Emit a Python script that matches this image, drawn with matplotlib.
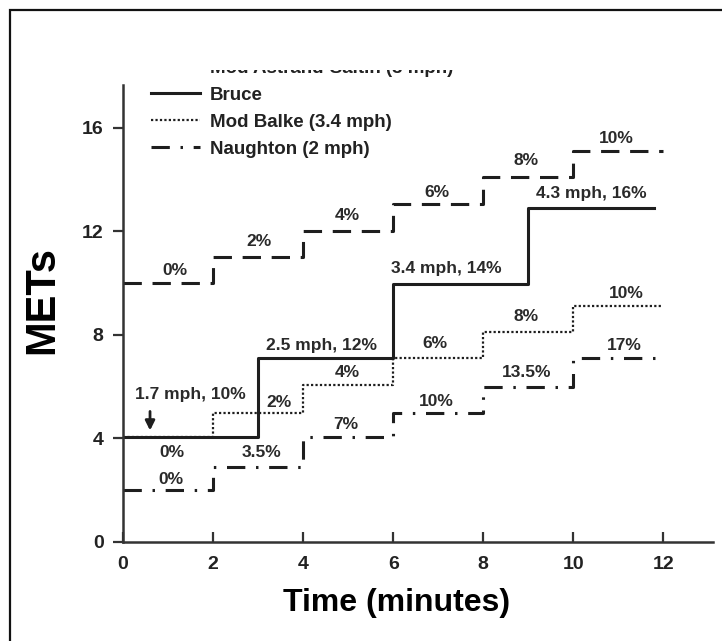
import matplotlib
matplotlib.use('Agg')
import matplotlib.pyplot as plt
from matplotlib.patches import Rectangle

plt.rcParams['font.family'] = ['Liberation Sans', 'DejaVu Sans']
plt.rcParams['font.weight'] = 'bold'

# step data (time in minutes, METs), drawn as steps-post
astrand_t = [0, 2, 4, 6, 8, 10, 12]
astrand_m = [10, 11, 12, 13.05, 14.1, 15.1, 15.1]
bruce_t = [0, 3, 6, 9, 11.8]
bruce_m = [4.05, 7.1, 9.95, 12.9, 12.9]
balke_t = [0, 2, 4, 6, 8, 10, 12]
balke_m = [4.05, 5.0, 6.05, 7.1, 8.1, 9.1, 9.1]
naughton_t = [0, 2, 4, 6, 8, 10, 12]
naughton_m = [2.0, 2.9, 4.05, 5.0, 6.0, 7.1, 7.1]

# stage labels: (text, x, y)
astrand_lbl = [('0%', 1.15, 10.5), ('2%', 3.02, 11.6), ('4%', 4.97, 12.6),
               ('6%', 6.98, 13.5), ('8%', 8.96, 14.75), ('10%', 10.95, 15.6)]
bruce_lbl = [('1.7 mph, 10%', 1.49, 5.7), ('2.5 mph, 12%', 4.41, 7.57),
             ('3.4 mph, 14%', 7.18, 10.58), ('4.3 mph, 16%', 10.4, 13.47)]
balke_lbl = [('0%', 1.09, 3.47), ('2%', 3.46, 5.37), ('4%', 4.97, 6.53),
             ('6%', 6.92, 7.68), ('8%', 8.96, 8.69), ('10%', 11.18, 9.6)]
naughton_lbl = [('0%', 1.06, 2.43), ('3.5%', 3.08, 3.44), ('7%', 4.94, 4.52),
                ('10%', 6.96, 5.44), ('13.5%', 8.96, 6.56), ('17%', 11.13, 7.6)]

xticks = [0, 2, 4, 6, 8, 10, 12]
yticks = [0, 4, 8, 12, 16]

ink = '#1e1e1e'
W, H = 722, 641
fig = plt.figure(figsize=(W / 100, H / 100), dpi=100)
ax = fig.add_axes([123 / W, 99 / H, (713 - 123) / W, (542 - 85) / H])

la, = ax.plot(astrand_t, astrand_m, drawstyle='steps-post', color=ink, lw=2.2,
              linestyle=(0, (6, 3.5)), label='Mod Astrand-Saltin (3 mph)')
lb, = ax.plot(bruce_t, bruce_m, drawstyle='steps-post', color=ink, lw=2.2,
              label='Bruce')
lk, = ax.plot(balke_t, balke_m, drawstyle='steps-post', color=ink, lw=1.6,
              linestyle=(0, (1, 1)), label='Mod Balke (3.4 mph)')
ln, = ax.plot(naughton_t, naughton_m, drawstyle='steps-post', color=ink, lw=2.2,
              linestyle=(0, (6, 3.5, 0.8, 3.5)), label='Naughton (2 mph)')

for lbls in (astrand_lbl, bruce_lbl, balke_lbl, naughton_lbl):
    for s, x, y in lbls:
        ax.text(x, y, s, ha='center', va='center', fontsize=12.5,
                fontweight='bold', color='#2a2a2a')

ax.annotate('', xy=(0.6, 4.2), xytext=(0.6, 5.15),
            arrowprops=dict(arrowstyle='-|>', lw=2, color=ink, mutation_scale=14))

ax.set_xlim(0, 13.1)
ax.set_ylim(0, 17.65)
ax.set_xticks(xticks)
ax.set_yticks(yticks)
ax.spines['top'].set_visible(False)
ax.spines['right'].set_visible(False)
for sp in ('left', 'bottom'):
    ax.spines[sp].set_linewidth(1.8)
    ax.spines[sp].set_color('#333333')
ax.tick_params(axis='y', direction='out', length=7, width=1.6, pad=7,
               labelsize=14, colors='#333333', labelcolor='#222222')
ax.tick_params(axis='x', direction='in', length=7, width=1.6, pad=10,
               labelsize=14, colors='#333333', labelcolor='#222222')
for lab in ax.get_xticklabels() + ax.get_yticklabels():
    lab.set_fontweight('bold')

ax.set_xlabel('Time (minutes)', fontsize=23, fontweight='bold')
ax.set_ylabel('METs', fontsize=30, fontweight='bold')
ax.xaxis.set_label_coords((397 - 123) / (713 - 123), -(588 - 542) / (542 - 85))
ax.yaxis.set_label_coords(-(123 - 62) / (713 - 123), (542 - 300) / (542 - 85))

leg = ax.legend(handles=[la, lb, lk, ln], loc='upper left',
                bbox_to_anchor=(151 / W, (H - 60) / H),
                bbox_transform=fig.transFigure, frameon=False,
                fontsize=13.5, handlelength=2.6, handletextpad=0.55,
                labelspacing=0.52, borderpad=0, borderaxespad=0)
for t in leg.get_texts():
    t.set_fontweight('bold')
    t.set_color('#222222')

# the top of the first legend entry is cut off in the source
fig.add_artist(Rectangle((140 / W, (H - 70) / H), 340 / W, 40 / H,
                         transform=fig.transFigure, facecolor='white',
                         edgecolor='none', zorder=20))
# border of the figure (left and top edges visible)
fig.add_artist(Rectangle((10 / W, -0.05), 1.2, (H - 10) / H + 0.05,
                         transform=fig.transFigure, facecolor='none',
                         edgecolor='#111111', lw=1.6, zorder=21))

fig.savefig('out.png', dpi=100)
